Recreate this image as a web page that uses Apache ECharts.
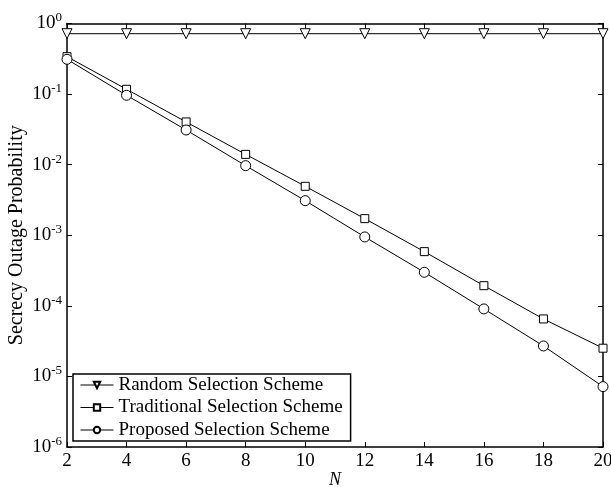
<!DOCTYPE html>
<html><head><meta charset="utf-8">
<script src="https://cdn.jsdelivr.net/npm/echarts@6/dist/echarts.min.js"></script>
<style>html,body{margin:0;padding:0;background:#fff}#c{width:611px;height:487px}</style>
</head><body><div id="c"></div>
<script>
var nValues = [2, 4, 6, 8, 10, 12, 14, 16, 18, 20];
var randomScheme = [0.717, 0.717, 0.717, 0.717, 0.717, 0.717, 0.717, 0.717, 0.717, 0.717];
var traditionalScheme = [0.339, 0.117, 0.0403, 0.0140, 0.00494, 0.00172, 5.86e-4, 1.93e-4, 6.52e-5, 2.51e-5];
var proposedScheme = [0.311, 0.0962, 0.0310, 0.00968, 0.00309, 9.46e-4, 2.99e-4, 9.04e-5, 2.70e-5, 7.17e-6];
var seriesNames = ['Random Selection Scheme', 'Traditional Selection Scheme', 'Proposed Selection Scheme'];
var xTickLabels = ['2', '4', '6', '8', '10', '12', '14', '16', '18', '20'];

var FONT = 'Liberation Serif';
function pairs(ys) { return nValues.map(function (x, i) { return [x, ys[i]]; }); }
function mk(name, ys, symbol, rot, size) {
  return {
    name: name, type: 'line', data: pairs(ys), symbol: symbol, symbolSize: size,
    symbolRotate: rot, showAllSymbol: true, animation: false, z: 3,
    lineStyle: { color: '#000', width: 1 },
    itemStyle: { color: '#fff', borderColor: '#000', borderWidth: 1 }
  };
}
var chart = echarts.init(document.getElementById('c'));
var tickLine = { show: true, inside: true, length: 5, lineStyle: { color: '#000', width: 1 } };
var axLine = { show: true, lineStyle: { color: '#000', width: 1.5 } };
chart.setOption({
  animation: false,
  backgroundColor: '#fff',
  textStyle: { fontFamily: FONT },
  grid: { left: 67, right: 8, top: 23.5, bottom: 40, containLabel: false, outerBoundsMode: 'none' },
  xAxis: [{
    type: 'value', min: 2, max: 20, interval: 2, name: 'N', nameLocation: 'middle', nameGap: 24,
    nameMoveOverlap: false,
    nameTextStyle: { fontFamily: FONT, fontSize: 18, fontStyle: 'italic', color: '#000' },
    axisLine: axLine, axisTick: tickLine, splitLine: { show: false },
    axisLabel: { fontFamily: FONT, fontSize: 19, color: '#000', margin: 5,
      formatter: function (v) { var i = nValues.indexOf(v); return i >= 0 ? xTickLabels[i] : ''; } }
  }, {
    type: 'value', position: 'top', min: 2, max: 20, interval: 2,
    axisLine: axLine, axisTick: tickLine, axisLabel: { show: false }, splitLine: { show: false }
  }],
  yAxis: [{
    type: 'log', logBase: 10, min: 1e-6, max: 1, interval: 1,
    name: 'Secrecy Outage Probability', nameLocation: 'middle', nameGap: 40, nameRotate: 90,
    nameMoveOverlap: false,
    nameTextStyle: { fontFamily: FONT, fontSize: 20, color: '#000' },
    axisLine: axLine, axisTick: tickLine, splitLine: { show: false }, minorTick: { show: false },
    axisLabel: {
      margin: 5, color: '#000',
      formatter: function (v) { var e = Math.round(Math.log10(v)); return '{b|10}{s|' + e + '}'; },
      rich: {
        b: { fontFamily: FONT, fontSize: 19, color: '#000' },
        s: { fontFamily: FONT, fontSize: 13, color: '#000', padding: [0, 0, 11, 0] }
      }
    }
  }, {
    type: 'log', logBase: 10, min: 1e-6, max: 1, interval: 1, position: 'right',
    axisLine: axLine, axisTick: tickLine, axisLabel: { show: false }, splitLine: { show: false }
  }],
  legend: {
    left: 73, bottom: 46, orient: 'vertical', itemGap: 3.5, itemWidth: 33, itemHeight: 8,
    padding: [1.5, 8, 1.5, 7], borderColor: '#000', borderWidth: 1.5, backgroundColor: '#fff',
    lineStyle: { width: 1, color: '#000' },
    textStyle: { fontFamily: FONT, fontSize: 19, lineHeight: 18, color: '#000' },
    data: seriesNames
  },
  series: [
    mk(seriesNames[0], randomScheme, 'triangle', 180, 10),
    mk(seriesNames[1], traditionalScheme, 'rect', 0, 8),
    mk(seriesNames[2], proposedScheme, 'circle', 0, 10)
  ]
});
</script></body></html>
